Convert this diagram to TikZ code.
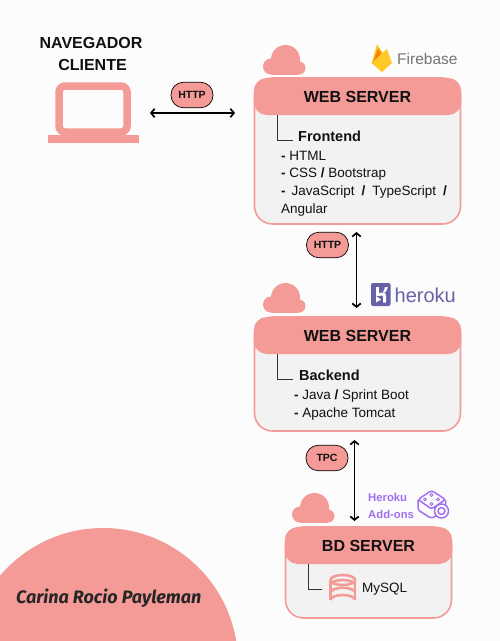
\documentclass[tikz,border=0pt]{standalone}
\usepackage{fontspec}
\setmainfont{Liberation Sans}
\newfontfamily\authorfont{Fira Sans}
\usetikzlibrary{arrows.meta}
\definecolor{rosa}{HTML}{F49B98}
\definecolor{bg}{HTML}{FCFCFC}
\definecolor{panel}{HTML}{F2F2F2}
\definecolor{herokuc}{HTML}{6762A6}
\definecolor{addon}{HTML}{9F6FF0}
\definecolor{fbgray}{HTML}{757575}
\definecolor{ink}{HTML}{111111}
\definecolor{fbyellow}{HTML}{FFCA28}
\definecolor{fbamber}{HTML}{FFA000}
\definecolor{fborange}{HTML}{F57C00}
\tikzset{
  panelbox/.style={draw=rosa,line width=1.6pt,fill=panel,rounded corners=18pt,inner sep=0pt},
  headbox/.style={fill=rosa,rounded corners=13pt,inner sep=0pt,font=\fontsize{16}{18}\selectfont\bfseries,text=ink},
  pill/.style={draw=black,line width=0.7pt,fill=rosa,rounded corners=12.4pt,inner sep=0pt,minimum width=42pt,minimum height=25.5pt,font=\fontsize{10.5}{12}\selectfont\bfseries,text=ink},
  dbl/.style={{Straight Barb[length=3.5pt,width=8.5pt,line width=1.7pt]}-{Straight Barb[length=3.5pt,width=8.5pt,line width=1.7pt]},line width=1.7pt,black},
  elbow/.style={draw=black!80,line width=0.9pt},
  label/.style={inner sep=0pt,anchor=base west,text=ink,font=\fontsize{13.5}{15}\selectfont},
  sub/.style={inner sep=0pt,anchor=west,text=ink,font=\fontsize{14.5}{16}\selectfont\bfseries},
  toptitle/.style={inner sep=0pt,font=\fontsize{16}{19}\selectfont\bfseries,text=ink},
  cloudshape/.pic={
    \fill[rosa] (22.5,14.5) circle[radius=14.5pt];
    \fill[rosa] (8,21.5) circle[radius=8pt];
    \fill[rosa] (36,23) circle[radius=6.5pt];
    \fill[rosa] (8,21.5) rectangle (36,29.5);
  }
}
\begin{document}
\begin{tikzpicture}[x=1pt,y=-1pt]
\path[use as bounding box,fill=bg] (0,0) rectangle (500,641);
% corner disc
\begin{scope}
\clip (0,0) rectangle (500,641);
\fill[rosa] (103,663) circle[radius=135pt];
\end{scope}
\node[inner sep=0pt,anchor=west,text=black!85,font=\authorfont\fontsize{18}{20}\selectfont\bfseries\itshape] (author) at (16,598) {Carina Rocio Payleman};
% laptop
\node[toptitle] (navt) at (91,43) {NAVEGADOR};
\node[toptitle] (clit) at (92.5,64.5) {CLIENTE};
\node[draw=rosa,line width=7.5pt,rounded corners=6pt,minimum width=68pt,minimum height=46pt,inner sep=0pt] (laptop) at (93,109) {};
\node[fill=rosa,minimum width=91pt,minimum height=7.5pt,inner sep=0pt] (laptopbase) at (93,139.2) {};
% server 1
\node[panelbox,minimum width=206pt,minimum height=146pt] (p1) at (357.5,151) {};
\node[headbox,minimum width=207.5pt,minimum height=37pt] (h1) at (357.5,96.5) {WEB SERVER};
\coordinate (e1) at (277.5,140);
\draw[elbow] (h1.south -| e1) -- (e1) -- ++(15,0);
\node[sub] (front) at (298,136) {Frontend};
\node[label] (t1a) at (281,160) {\bfseries-\mdseries{} HTML};
\node[label] (t1b) at (281,177) {\bfseries-\mdseries{} CSS \bfseries/\mdseries{} Bootstrap};
\node[label] (t1c) at (281,195) {\bfseries-\mdseries{}\hspace{6pt}JavaScript\hspace{7pt}\bfseries/\mdseries\hspace{7pt}TypeScript\hspace{7pt}\bfseries/};
\node[label] (t1d) at (281,213) {Angular};
\pic at (263,45) {cloudshape};
% firebase logo
\fill[fbyellow] (372,63) -- (377,44) -- (383,54) -- cycle;
\fill[fbamber] (372,63) -- (378,47) -- (385,57) -- (382,72) -- cycle;
\fill[fborange] (375,60) -- (378,50) -- (382,56) -- cycle;
\fill[fbyellow] (372,63) -- (381,54) -- (387,49) -- (392,63) -- (382,72) -- cycle;
\node[inner sep=0pt,anchor=west,text=fbgray,font=\fontsize{15.5}{18}\selectfont] (fb) at (397,58.5) {Firebase};
% link client - server
\coordinate (a1l) at (150,113);
\coordinate (a1r) at (235,113);
\draw[dbl] (a1l) -- (a1r);
\node[pill] (pill1) at (192,95) {HTTP};
% server 2
\node[panelbox,minimum width=206pt,minimum height=114pt] (p2) at (357.5,374) {};
\node[headbox,minimum width=207.5pt,minimum height=37pt] (h2) at (357.5,335.5) {WEB SERVER};
\coordinate (e2) at (277.5,379);
\draw[elbow] (h2.south -| e2) -- (e2) -- ++(15,0);
\node[sub] (back) at (299,375) {Backend};
\node[label] (t2a) at (294,399) {\bfseries-\mdseries{} Java \bfseries/\mdseries{} Sprint Boot};
\node[label] (t2b) at (294,417) {\bfseries-\mdseries{} Apache Tomcat};
\pic at (263,283) {cloudshape};
% heroku logo
\fill[herokuc,rounded corners=2pt] (371,283) rectangle (390.5,306);
\fill[white] (376,287) rectangle (378.7,296);
\fill[white] (376,296) -- (376,302.5) -- (381,299.5) -- cycle;
\fill[white] (378.7,293.5) .. controls (381,292.5) and (386,291) .. (386,295.5) -- (386,302.5) -- (383.2,302.5) -- (383.2,296.5) .. controls (383.2,294.5) and (381,295.5) .. (378.7,296.3) -- cycle;
\fill[white] (383,292) .. controls (384,290.5) and (384.8,289) .. (385,287) -- (387.8,287) .. controls (387.6,289) and (386.6,291) .. (385,292.6) -- cycle;
\node[inner sep=0pt,anchor=west,text=herokuc,font=\fontsize{20}{22}\selectfont] (her) at (394.5,295) {heroku};
% link 1-2
\coordinate (a2t) at (356.5,232);
\coordinate (a2b) at (356.5,308);
\draw[dbl] (a2t) -- (a2b);
\node[pill] (pill2) at (327.5,245) {HTTP};
% db server
\node[panelbox,minimum width=166pt,minimum height=91pt] (p3) at (368.5,572.5) {};
\node[headbox,minimum width=167.5pt,minimum height=37pt] (h3) at (368.5,545.5) {BD SERVER};
\coordinate (e3) at (308,589);
\draw[elbow] (h3.south -| e3) -- (e3) -- ++(14,0);
\node[inner sep=0pt,anchor=west,text=ink,font=\fontsize{13.5}{15}\selectfont] (my) at (362,589) {MySQL};
\pic at (292,493) {cloudshape};
% db icon
\begin{scope}[rosa,line width=2.6pt]
\draw (330.5,580) arc[start angle=180,end angle=-180,x radius=12.3pt,y radius=5pt];
\draw (330.5,580) -- (330.5,600);
\draw (355.1,580) -- (355.1,600);
\draw (330.5,585) arc[start angle=180,end angle=360,x radius=12.3pt,y radius=-5pt];
\draw (330.5,592.7) arc[start angle=180,end angle=360,x radius=12.3pt,y radius=-5pt];
\draw (330.5,600) arc[start angle=180,end angle=360,x radius=12.3pt,y radius=-5pt];
\end{scope}
% addons
\node[inner sep=0pt,anchor=west,text=addon,align=left,font=\fontsize{11.3}{17}\selectfont\bfseries] (addt) at (368,505.5) {Heroku\\Add-ons};
\begin{scope}[addon,line width=1.5pt,line join=round]
\draw[rounded corners=2.5pt] (418,499.5) -- (431.5,490.5) -- (445.5,499.5) -- (431.5,509) -- cycle;
\draw[rounded corners=2.5pt] (418,499.5) -- (418,510) -- (431.5,518.5) -- (445.5,510) -- (445.5,499.5);
\draw[fill=white] (441.5,511) circle[radius=7pt];
\draw (441.5,511) circle[radius=3.5pt];
\draw[line width=1pt] (431.5,495) circle[radius=1.5pt] (425,499.5) circle[radius=1.5pt] (438,499.5) circle[radius=1.5pt] (431.5,504) circle[radius=1.5pt];
\end{scope}
% link 2-3
\coordinate (a3t) at (354.5,440);
\coordinate (a3b) at (354.5,521);
\draw[dbl] (a3t) -- (a3b);
\node[pill] (pill3) at (327,458) {TPC};
\end{tikzpicture}
\end{document}
